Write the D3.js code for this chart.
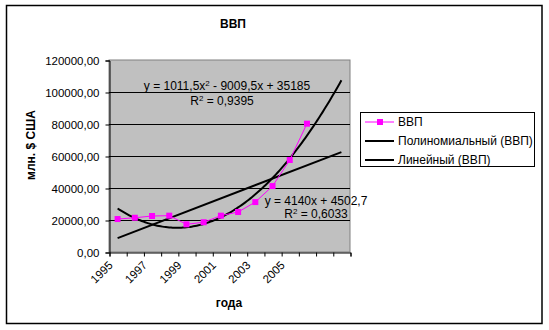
<!DOCTYPE html>
<html>
<head>
<meta charset="utf-8">
<script src="https://cdn.jsdelivr.net/npm/d3@7/dist/d3.min.js"></script>
<style>
  body { margin: 0; background: #fff; }
  svg { display: block; font-family: Arial, "Liberation Sans", sans-serif; }
</style>
</head>
<body>
<svg id="chart" width="549" height="330"></svg>
<script>
// Categories on the x axis: 12 observed years plus 2 forecast slots for the trend lines
const categories = ["1995","1996","1997","1998","1999","2000","2001","2002","2003","2004","2005","2006","f1","f2"];
const dataYears  = ["1995","1996","1997","1998","1999","2000","2001","2002","2003","2004","2005","2006"];
const xTickLabels = ["1995","1997","1999","2001","2003","2005"];

// ВВП, млн. $ США
const gdp = [20600, 21400, 22500, 22700, 17300, 18600, 22700, 25000, 31200, 41200, 57500, 80200];

const yTicks = [0, 20000, 40000, 60000, 80000, 100000, 120000];

// Trend line coefficients (x = 1..14 is the category number)
const polyCoef = [1011.5, -9009.5, 35185];   // a*x^2 + b*x + c
const linCoef  = [4140, 4502.7];             // k*x + m
const polyLabel = ["y = 1011,5x", "2", " - 9009,5x  + 35185"];
const polyR2 = "0,9395";
const linLabel = "y = 4140x  + 4502,7";
const linR2 = "0,6033";

const legendItems = ["ВВП", "Полиномиальный (ВВП)", "Линейный (ВВП)"];

const svg = d3.select("#chart");

// Outer chart border
svg.append("rect").attr("x", 6.5).attr("y", 5.5).attr("width", 535.5).attr("height", 318)
  .attr("fill", "#fff").attr("stroke", "#000").attr("stroke-width", 1.5);

const plot = { left: 109, right: 350, top: 60, bottom: 252 };

const x = d3.scaleBand().domain(categories).range([plot.left, plot.right]).padding(0);
const xPos = d3.scaleLinear().domain([0, categories.length]).range([plot.left, plot.right]);
const y = d3.scaleLinear().domain([0, 120000]).range([plot.bottom, plot.top]);
const cx = c => x(c) + x.bandwidth() / 2;
const cxNum = n => xPos(n - 0.5);

// Plot area
svg.append("rect").attr("x", plot.left).attr("y", plot.top)
  .attr("width", plot.right - plot.left).attr("height", plot.bottom - plot.top)
  .attr("fill", "#c0c0c0").attr("stroke", "#808080").attr("stroke-width", 1);

// Gridlines
svg.append("g").selectAll("line").data(yTicks.filter(v => v > 0 && v < 120000)).join("line")
  .attr("x1", plot.left).attr("x2", plot.right)
  .attr("y1", d => Math.round(y(d)) + 0.5).attr("y2", d => Math.round(y(d)) + 0.5)
  .attr("stroke", "#000").attr("stroke-width", 1);

// Y axis
const fmt = d3.formatLocale({ decimal: ",", thousands: "\u00a0", grouping: [3], currency: ["", ""] }).format(".2f");
const yAxis = svg.append("g").attr("transform", `translate(${plot.left + 0.5},0.5)`)
  .call(d3.axisLeft(y).tickValues(yTicks).tickSize(4).tickPadding(6).tickFormat(fmt));
yAxis.select(".domain").attr("stroke", "#000");
yAxis.selectAll("text").attr("font-size", 11.5).attr("fill", "#000").attr("font-family", "Arial, 'Liberation Sans', sans-serif");

// X axis: ticks at category boundaries
const xAxis = svg.append("g").attr("transform", `translate(0.5,${plot.bottom + 0.5})`)
  .call(d3.axisBottom(xPos).tickValues(d3.range(0, categories.length + 1)).tickSize(4).tickFormat(""));
xAxis.select(".domain").attr("stroke", "#000");

// X category labels, rotated
svg.append("g").selectAll("text").data(xTickLabels).join("text")
  .attr("transform", d => `translate(${cx(d) - 7},${plot.bottom + 11}) rotate(-45)`)
  .attr("text-anchor", "end").attr("dy", "0.35em")
  .attr("font-size", 11.5).attr("fill", "#000").text(d => d);

// Trend lines
const polyF = t => polyCoef[0] * t * t + polyCoef[1] * t + polyCoef[2];
const linF = t => linCoef[0] * t + linCoef[1];
const tSamples = d3.range(1, categories.length + 0.001, 0.1);
const line = d3.line().x(d => cxNum(d[0])).y(d => y(d[1]));

svg.append("path").attr("d", line(tSamples.map(t => [t, polyF(t)])))
  .attr("fill", "none").attr("stroke", "#000").attr("stroke-width", 2);
svg.append("path").attr("d", line([[1, linF(1)], [categories.length, linF(categories.length)]]))
  .attr("fill", "none").attr("stroke", "#000").attr("stroke-width", 2);

// Data series
svg.append("path")
  .attr("d", d3.line().x((d, i) => cx(dataYears[i])).y(d => y(d))(gdp))
  .attr("fill", "none").attr("stroke", "#ff00ff").attr("stroke-width", 1);
svg.append("g").selectAll("rect").data(gdp).join("rect")
  .attr("x", (d, i) => cx(dataYears[i]) - 3).attr("y", d => y(d) - 3)
  .attr("width", 6).attr("height", 6).attr("fill", "#ff00ff");

// Trend equations
const eq1 = svg.append("text").attr("x", 227).attr("y", 90).attr("text-anchor", "middle")
  .attr("font-size", 12).attr("fill", "#000");
eq1.append("tspan").text(polyLabel[0]);
eq1.append("tspan").attr("dy", -4).attr("font-size", 8).text(polyLabel[1]);
eq1.append("tspan").attr("dy", 4).text(polyLabel[2]);
const r1 = svg.append("text").attr("x", 222).attr("y", 105).attr("text-anchor", "middle")
  .attr("font-size", 12).attr("fill", "#000");
r1.append("tspan").text("R");
r1.append("tspan").attr("dy", -4).attr("font-size", 8).text("2");
r1.append("tspan").attr("dy", 4).text(" = " + polyR2);

svg.append("text").attr("x", 316).attr("y", 205).attr("text-anchor", "middle")
  .attr("font-size", 12).attr("fill", "#000").text(linLabel);
const r2 = svg.append("text").attr("x", 316).attr("y", 218).attr("text-anchor", "middle")
  .attr("font-size", 12).attr("fill", "#000");
r2.append("tspan").text("R");
r2.append("tspan").attr("dy", -4).attr("font-size", 8).text("2");
r2.append("tspan").attr("dy", 4).text(" = " + linR2);

// Titles
svg.append("text").attr("x", 233).attr("y", 28).attr("text-anchor", "middle")
  .attr("font-size", 12).attr("font-weight", "bold").text("ВВП");
svg.append("text").attr("transform", "translate(35,145) rotate(-90)").attr("text-anchor", "middle")
  .attr("font-size", 12).attr("font-weight", "bold").text("млн. $ США");
svg.append("text").attr("x", 229).attr("y", 307).attr("text-anchor", "middle")
  .attr("font-size", 12).attr("font-weight", "bold").text("года");

// Legend
const lg = svg.append("g");
lg.append("rect").attr("x", 360.5).attr("y", 112.5).attr("width", 174).attr("height", 54)
  .attr("fill", "#fff").attr("stroke", "#000").attr("stroke-width", 1);
const rowsY = [122, 141, 160];
legendItems.forEach((name, i) => {
  const ly = rowsY[i];
  lg.append("line").attr("x1", 365).attr("x2", 394).attr("y1", ly).attr("y2", ly)
    .attr("stroke", i === 0 ? "#ff00ff" : "#000").attr("stroke-width", i === 0 ? 1 : 2);
  if (i === 0) lg.append("rect").attr("x", 377).attr("y", ly - 3).attr("width", 6).attr("height", 6).attr("fill", "#ff00ff");
  lg.append("text").attr("x", 398).attr("y", ly).attr("dy", "0.35em")
    .attr("font-size", 12).attr("fill", "#000").text(name);
});
</script>
</body>
</html>
